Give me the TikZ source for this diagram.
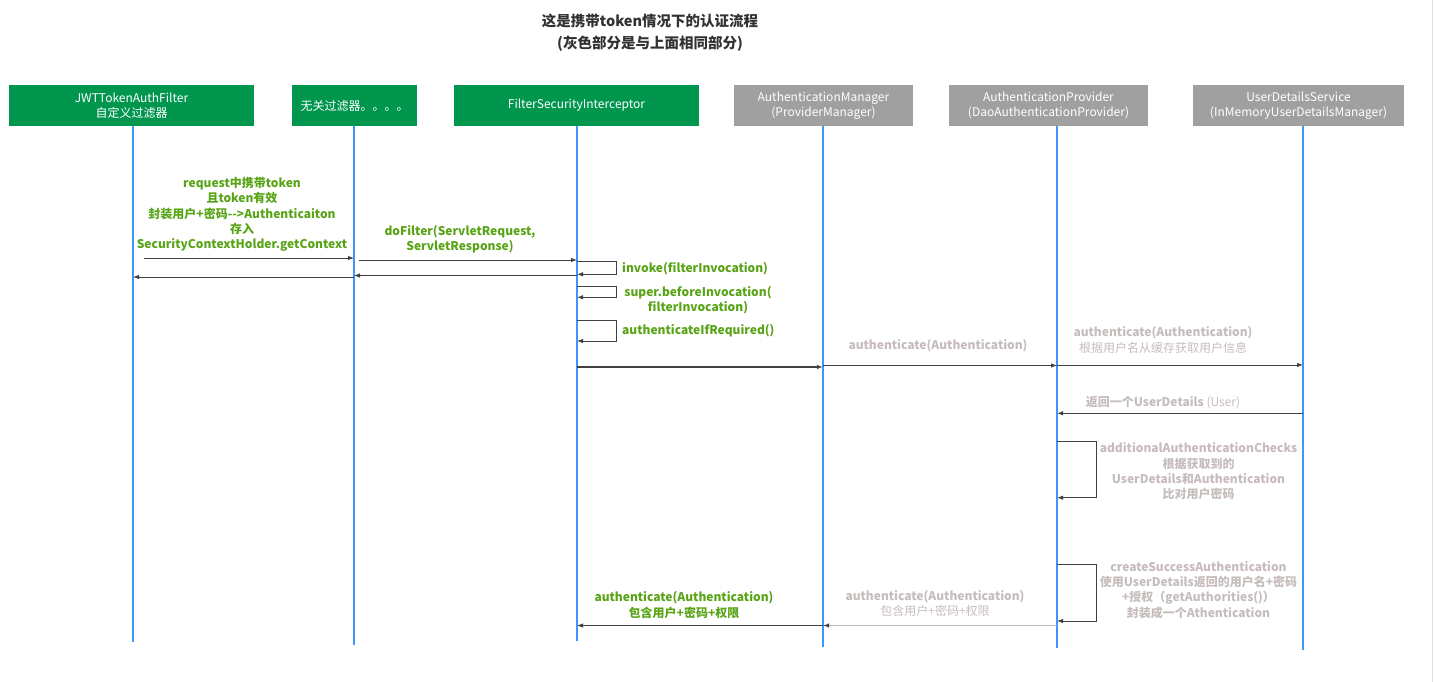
\documentclass[tikz,border=0pt]{standalone}
\usepackage{fontspec}
\setmainfont{Noto Sans CJK SC}
\usetikzlibrary{arrows.meta}
\definecolor{boxgreen}{RGB}{0,150,78}
\definecolor{boxgray}{RGB}{160,160,160}
\definecolor{lblgreen}{RGB}{88,164,22}
\definecolor{lblgray}{RGB}{198,188,188}
\definecolor{lifeblue}{RGB}{60,150,255}
\definecolor{arrowdark}{RGB}{64,64,64}
\definecolor{titlegray}{RGB}{50,50,50}
\tikzset{
  hdr/.style={minimum height=41pt, inner sep=0pt, text=white, align=center,
    font=\fontsize{12}{14.5}\selectfont},
  hdrgreen/.style={hdr, fill=boxgreen},
  hdrgray/.style={hdr, fill=boxgray},
  life/.style={draw=lifeblue, line width=1.1pt},
  msg/.style={draw=arrowdark, line width=0.9pt, -{Latex[length=6pt,width=4.5pt]}},
  msgthick/.style={msg, line width=1.3pt},
  msglight/.style={draw=gray!55, line width=1.8pt, -{Latex[length=6pt,width=4.5pt,color=arrowdark]}},
  glbl/.style={text=lblgreen, align=center, inner sep=0pt, font=\bfseries\fontsize{12}{15.3}\selectfont},
  ylbl/.style={text=lblgray, align=center, inner sep=0pt, font=\bfseries\fontsize{12}{15.3}\selectfont},
  ttl/.style={text=titlegray, align=center, inner sep=0pt, font=\bfseries\fontsize{14.5}{22}\selectfont}
}
\begin{document}
\begin{tikzpicture}[x=1pt,y=-1pt]
\useasboundingbox (0,0) rectangle (1434,682);
\draw[gray!25, line width=0.8pt] (1432,0) -- (1432,682);

% title
\node[ttl] (title) at (650,33) {这是携带token情况下的认证流程\\(灰色部分是与上面相同部分)};

% headers
\node[hdrgreen, minimum width=245pt] (b1) at (131.5,105.5) {JWTTokenAuthFilter\\自定义过滤器};
\node[hdrgreen, minimum width=125pt] (b2) at (354.5,105.5) {无关过滤器。。。。};
\node[hdrgreen, minimum width=245pt] (b3) at (576.5,105.5) {FilterSecurityInterceptor};
\node[hdrgray, minimum width=179pt] (b4) at (823.5,105.5) {AuthenticationManager\\(ProviderManager)};
\node[hdrgray, minimum width=199pt] (b5) at (1048.5,105.5) {AuthenticationProvider\\(DaoAuthenticationProvider)};
\node[hdrgray, minimum width=211pt] (b6) at (1298.5,105.5) {UserDetailsService\\(InMemoryUserDetailsManager)};

% lifeline ends
\coordinate (e1) at (133,642);
\coordinate (e2) at (354,645);
\coordinate (e3) at (577,641);
\coordinate (e4) at (823,647);
\coordinate (e5) at (1057,648);
\coordinate (e6) at (1303,650);
\draw[life] (e1 |- b1.south) -- (e1);
\draw[life] (e2 |- b2.south) -- (e2);
\draw[life] (e3 |- b3.south) -- (e3);
\draw[life] (e4 |- b4.south) -- (e4);
\draw[life] (e5 |- b5.south) -- (e5);
\draw[life] (e6 |- b6.south) -- (e6);

% message levels
\coordinate (y1) at (0,258);
\coordinate (y2) at (0,277);
\coordinate (y3) at (0,260);
\coordinate (y4) at (0,275.5);
\coordinate (y5a) at (0,261);
\coordinate (y5b) at (0,274.3);
\coordinate (y6a) at (0,286);
\coordinate (y6b) at (0,297.3);
\coordinate (y7a) at (0,320.3);
\coordinate (y7b) at (0,341);
\coordinate (y8) at (0,367);
\coordinate (y9) at (0,365.5);
\coordinate (y10) at (0,365);
\coordinate (y11) at (0,413.3);
\coordinate (y12a) at (0,441);
\coordinate (y12b) at (0,497.7);
\coordinate (y13a) at (0,564.7);
\coordinate (y13b) at (0,621);
\coordinate (y14) at (0,625.5);
\coordinate (y15) at (0,625.5);
\coordinate (loopA) at (616,0);
\coordinate (loopB) at (1096.5,0);

% labels
\node[glbl] (l1) at (242,214.5) {request中携带token\\且token有效\\封装用户+密码-{}-{}>Authenticaiton\\存入\\SecurityContextHolder.getContext};
\node[glbl] (l2) at (460,239.5) {doFilter(ServletRequest,\\ServletResponse)};
\node[glbl, anchor=west] (l3) at (622,268.3) {invoke(filterInvocation)};
\node[glbl] (l4) at (698,300) {super.beforeInvocation(\\filterInvocation)};
\node[glbl, anchor=west] (l5) at (622,331) {authenticateIfRequired()};
\node[ylbl] (l6) at (938,346) {authenticate(Authentication)};
\node[ylbl] (l7) at (1163,340) {authenticate(Authentication)\\\mdseries 根据用户名从缓存获取用户信息};
\node[ylbl] (l8) at (1163,402.7) {返回一个UserDetails \mdseries(User)};
\node[ylbl] (l9) at (1198.5,471.3) {additionalAuthenticationChecks\\根据获取到的\\UserDetails和Authentication\\比对用户密码};
\node[ylbl] (l10) at (1198.5,590) {createSuccessAuthentication\\使用UserDetails返回的用户名+密码\\+授权（getAuthorities()）\\封装成一个Athentication};
\node[ylbl] (l11) at (935,603.7) {authenticate(Authentication)\\\mdseries 包含用户+密码+权限};
\node[glbl] (l12) at (684,605) {authenticate(Authentication)\\包含用户+密码+权限};

% messages
\draw[msg, shorten <=11pt] (e1 |- y1) -- (e2 |- y1);
\draw[msg] (e2 |- y2) -- (e1 |- y2);
\draw[msg, shorten <=5pt] (e2 |- y3) -- (e3 |- y3);
\draw[msg] (e3 |- y4) -- (e2 |- y4);
\draw[msg] (e3 |- y5a) -- (loopA |- y5a) -- (loopA |- y5b) -- (e3 |- y5b);
\draw[msg] (e3 |- y6a) -- (loopA |- y6a) -- (loopA |- y6b) -- (e3 |- y6b);
\draw[msg] (e3 |- y7a) -- (loopA |- y7a) -- (loopA |- y7b) -- (e3 |- y7b);
\draw[msgthick] (e3 |- y8) -- (e4 |- y8);
\draw[msg] (e4 |- y9) -- (e5 |- y9);
\draw[msg] (e5 |- y10) -- (e6 |- y10);
\draw[msg] (e6 |- y11) -- (e5 |- y11);
\draw[msg] (e5 |- y12a) -- (loopB |- y12a) -- (loopB |- y12b) -- (e5 |- y12b);
\draw[msg] (e5 |- y13a) -- (loopB |- y13a) -- (loopB |- y13b) -- (e5 |- y13b);
\draw[msglight] (e5 |- y14) -- (e4 |- y14);
\draw[msg] (e4 |- y15) -- (e3 |- y15);
\end{tikzpicture}
\end{document}
